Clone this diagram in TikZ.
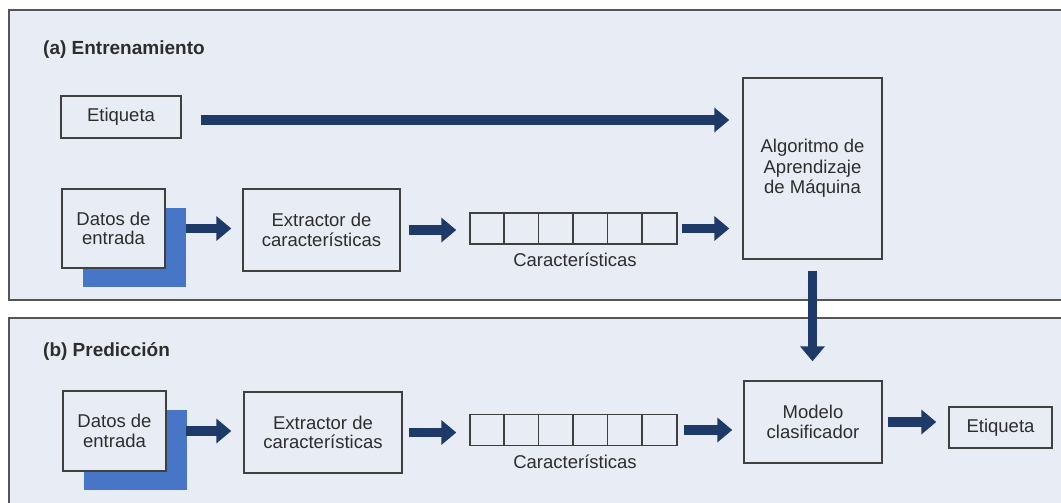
\documentclass[tikz,border=0pt]{standalone}
\usepackage{fontspec}
\setmainfont{Liberation Sans}
\usetikzlibrary{arrows.meta}
\definecolor{panelbg}{RGB}{232,237,245}
\definecolor{panelline}{RGB}{85,85,85}
\definecolor{boxline}{RGB}{64,64,64}
\definecolor{shadowblue}{RGB}{72,118,198}
\definecolor{arrowblue}{RGB}{30,58,104}
\definecolor{txt}{RGB}{45,45,45}

\begin{document}
\begin{tikzpicture}[x=1pt,y=-1pt,
  panel/.style={draw=panelline, line width=1.5pt, fill=panelbg},
  block/.style={draw=boxline, line width=1.4pt, fill=panelbg, text=txt, align=center,
    font=\fontsize{18.5}{19.5}\selectfont, inner sep=0pt},
  shadowbox/.style={fill=shadowblue, inner sep=0pt},
  title/.style={font=\fontsize{19}{20}\selectfont\bfseries, text=txt, anchor=west, inner sep=0pt},
  caption/.style={text=txt, font=\fontsize{18.5}{19.5}\selectfont, inner sep=0pt},
  flow/.style={draw=arrowblue, line width=9.5pt, -{Triangle[length=15pt,width=24pt]}}
]
\useasboundingbox (0,0) rectangle (1061,503);
\fill[white] (0,0) rectangle (1061,503);

% the two panels
\draw[panel] (9,10) rectangle (1070,300);
\draw[panel] (9,318) rectangle (1070,515);

\node[title] (titleA) at (43,50) {(a) Entrenamiento};
\node[title] (titleB) at (43,352) {(b) Predicción};

% ---- (a) training ----
\node[block, minimum width=120pt, minimum height=42pt] (etqA) at (121,117) {Etiqueta};
\node[block, minimum width=139pt, minimum height=181pt, font=\fontsize{18.5}{20.5}\selectfont] (algo) at (812.5,168.5)
  {Algoritmo de\\Aprendizaje\\de Máquina};
\node[shadowbox, minimum width=103pt, minimum height=79pt] (shA) at (134,247) {};
\node[block, minimum width=103pt, minimum height=79pt] (datosA) at (113.5,228.5) {Datos de\\entrada};
\node[block, minimum width=157pt, minimum height=82pt] (extA) at (321.5,230) {Extractor de\\características};
\node[block, minimum width=207pt, minimum height=31pt] (featA) at (573.5,228.5) {};
\foreach \i in {1,...,5}
  \draw[boxline, line width=1.4pt] ([xshift=\i*34.5pt]featA.north west) -- ([xshift=\i*34.5pt]featA.south west);
\node[caption] (capA) at (575,260) {Características};

% ---- (b) prediction ----
\node[shadowbox, minimum width=103pt, minimum height=80pt] (shB) at (135.5,450) {};
\node[block, minimum width=103pt, minimum height=80pt] (datosB) at (114.5,431) {Datos de\\entrada};
\node[block, minimum width=158pt, minimum height=81pt] (extB) at (323,432.5) {Extractor de\\características};
\node[block, minimum width=207pt, minimum height=31pt] (featB) at (573.5,430) {};
\foreach \i in {1,...,5}
  \draw[boxline, line width=1.4pt] ([xshift=\i*34.5pt]featB.north west) -- ([xshift=\i*34.5pt]featB.south west);
\node[caption] (capB) at (575,462) {Características};
\node[block, minimum width=138pt, minimum height=82pt] (modelo) at (813,422) {Modelo\\clasificador};
\node[block, minimum width=103pt, minimum height=41pt] (etqB) at (1000.5,427.5) {Etiqueta};

% ---- connectors ----
\draw[flow, shorten <=19pt, shorten >=13pt] ([yshift=-3pt]etqA.east) -- ([yshift=-3pt]etqA.east -| algo.west);
\draw[flow, shorten <=20pt, shorten >=11pt] (datosA.east) -- (datosA.east -| extA.west);
\draw[flow, shorten <=8pt, shorten >=13pt] (extA.east) -- (extA.east -| featA.west);
\draw[flow, shorten <=4pt, shorten >=13pt] (featA.east) -- (featA.east -| algo.west);
\draw[flow, shorten <=11pt, shorten >=19pt] (algo.south) -- (algo.south |- modelo.north);

\draw[flow, shorten <=19pt, shorten >=12pt] (datosB.east) -- (datosB.east -| extB.west);
\draw[flow, shorten <=6pt, shorten >=13pt] (extB.east) -- (extB.east -| featB.west);
\draw[flow, shorten <=6pt, shorten >=11pt] (featB.east) -- (featB.east -| modelo.west);
\draw[flow, shorten <=5pt, shorten >=12pt] (modelo.east) -- (modelo.east -| etqB.west);
\end{tikzpicture}
\end{document}
